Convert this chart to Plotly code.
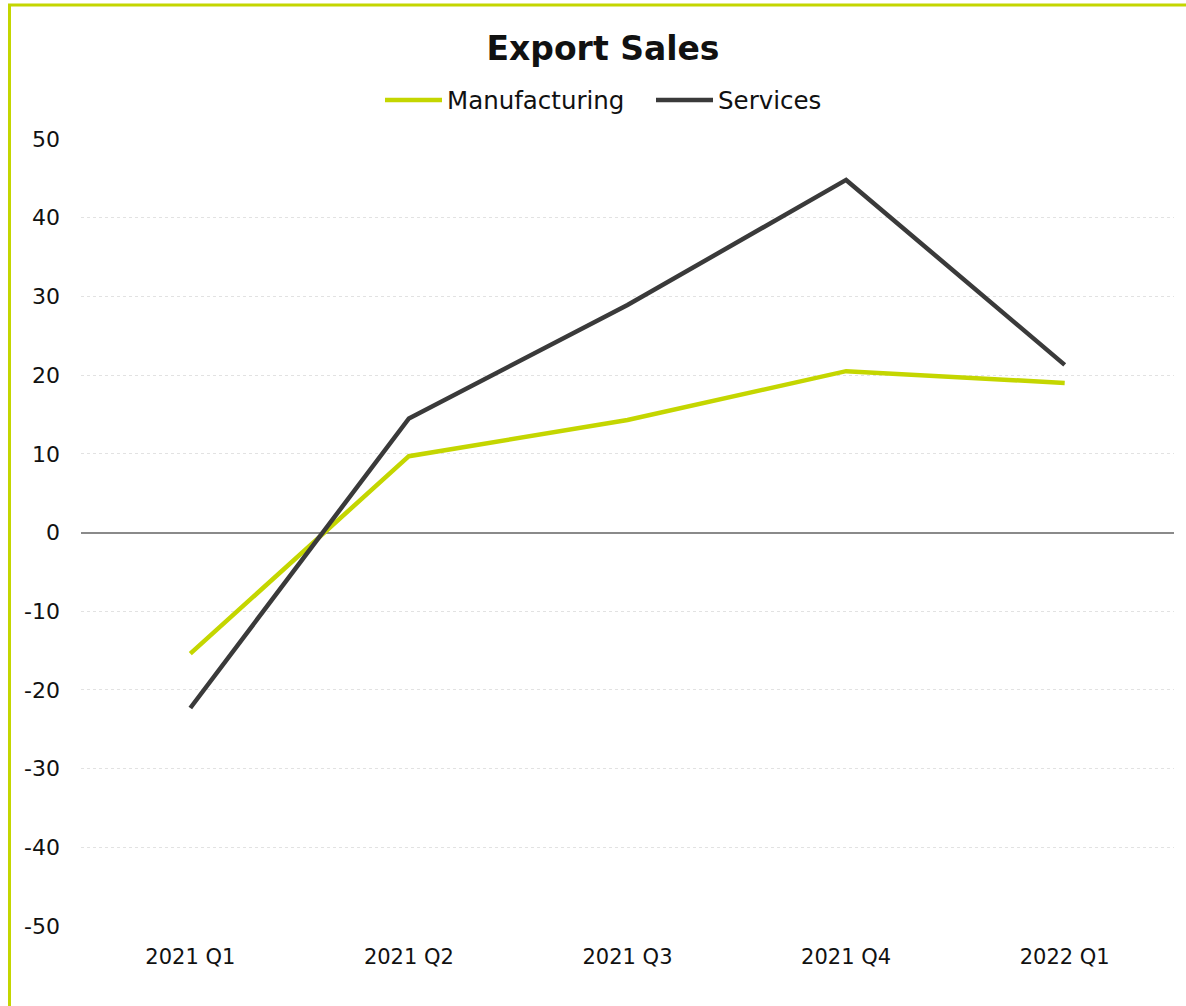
import plotly.graph_objects as go

quarters = ["2021 Q1", "2021 Q2", "2021 Q3", "2021 Q4", "2022 Q1"]
manufacturing = [-15.4, 9.7, 14.3, 20.5, 19.0]
services = [-22.3, 14.5, 28.9, 44.8, 21.3]
y_ticks = [50, 40, 30, 20, 10, 0, -10, -20, -30, -40, -50]
y_labels = [str(v) for v in y_ticks]

GREEN = "#c4d600"
DARK = "#3a3a3a"
FONT = "DejaVu Sans, sans-serif"

fig = go.Figure()
fig.add_trace(go.Scatter(x=quarters, y=manufacturing, mode="lines", name="Manufacturing",
                         line=dict(color=GREEN, width=4.5)))
fig.add_trace(go.Scatter(x=quarters, y=services, mode="lines", name="Services",
                         line=dict(color=DARK, width=4.5)))

W, H = 1186, 1006
L, R, T, B = 81, 12, 139, 80
pw = W - L - R
ph = H - T - B

def px_x(p):
    return (p - L) / pw

def px_y(p):
    return (H - B - p) / ph

# frame lines along the left and top edges
fig.add_shape(type="line", xref="paper", yref="paper",
              x0=px_x(9.5), x1=px_x(9.5), y0=px_y(1010), y1=px_y(4),
              line=dict(color=GREEN, width=3))
fig.add_shape(type="line", xref="paper", yref="paper",
              x0=px_x(8), x1=px_x(1190), y0=px_y(5), y1=px_y(5),
              line=dict(color=GREEN, width=3))

fig.update_layout(
    width=W, height=H,
    margin=dict(l=L, r=R, t=T, b=B, autoexpand=False),
    paper_bgcolor="white", plot_bgcolor="white",
    font=dict(family=FONT, color="#111111", size=21),
    title=dict(text="<b>Export Sales</b>", x=603 / W, xanchor="center",
               y=1 - 48 / H, yanchor="middle",
               font=dict(size=33, family=FONT, color="#111111")),
    legend=dict(orientation="h", x=px_x(380), xanchor="left",
                y=px_y(100), yanchor="middle",
                font=dict(size=24.5), itemwidth=57,
                entrywidth=199, entrywidthmode="pixels",
                bgcolor="rgba(0,0,0,0)"),
    showlegend=True,
    hovermode=False,
)
fig.update_xaxes(range=[-0.5, 4.5], showgrid=False, showline=False, zeroline=False,
                 ticks="", ticklabelstandoff=16, tickfont=dict(size=21))
fig.update_yaxes(range=[-50, 50], tickvals=y_ticks, ticktext=y_labels, showgrid=True,
                 gridcolor="#e2e2e2", griddash="dot", gridwidth=1,
                 zeroline=True, zerolinecolor="#8a8a8a", zerolinewidth=2,
                 showline=False, ticks="", ticklabelstandoff=20,
                 tickfont=dict(size=22))

fig.write_html("out.html")
